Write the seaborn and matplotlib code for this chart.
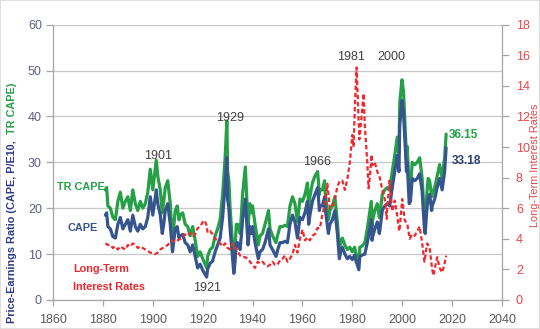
import numpy as np
import pandas as pd
import matplotlib
matplotlib.use("Agg")
import matplotlib.pyplot as plt
import seaborn as sns
from matplotlib.patches import Rectangle

# ---------------- data ----------------
cape_years = [1881.0, 1881.5, 1882, 1883, 1884, 1885, 1886, 1887, 1888, 1889, 1890, 1891, 1892, 1893,
              1894, 1895, 1896, 1897, 1898, 1899, 1900, 1901.4, 1902, 1903, 1903.8, 1904.5, 1905,
              1906, 1907, 1907.9, 1909, 1909.8, 1910.5, 1911, 1912, 1913, 1914, 1915, 1916, 1917,
              1918, 1919, 1920, 1921.6, 1922, 1923, 1924, 1925, 1926, 1927, 1928, 1929, 1929.7,
              1930, 1930.5, 1931, 1932.5, 1933, 1933.5, 1934, 1935, 1935.5, 1936, 1937.1, 1938.2,
              1938.9, 1939.5, 1940, 1941, 1942.3, 1943, 1944, 1945, 1946.4, 1947, 1948, 1949.4,
              1950, 1951, 1952, 1953, 1954, 1955, 1956, 1957, 1958, 1959, 1960, 1961, 1962,
              1962.5, 1963, 1964, 1965, 1966.1, 1966.8, 1967, 1968, 1968.9, 1969, 1970.4, 1971,
              1972, 1973, 1974, 1974.8, 1975.5, 1976, 1977, 1978, 1979, 1980, 1980.9, 1981.5,
              1982.6, 1983, 1984, 1985, 1986, 1987.6, 1987.9, 1988, 1989, 1990, 1990.8, 1991,
              1992, 1993, 1994, 1995, 1996, 1997, 1998, 1998.7, 1999, 1999.9, 2000.5, 2001,
              2001.7, 2002, 2002.8, 2003.3, 2004, 2005, 2006, 2007, 2007.8, 2008, 2008.9, 2009.2,
              2010, 2010.4, 2011, 2011.8, 2012, 2013, 2014, 2015, 2016, 2017, 2017.6]

cape = [18.5, 19.0, 16.0, 15.5, 13.8, 13.5, 16.5, 18.0, 15.5, 16.5, 17.5, 15.0, 18.5, 16.0,
        15.0, 16.5, 15.5, 16.0, 18.0, 22.5, 18.5, 24.0, 21.0, 18.5, 14.5, 17.0, 19.5,
        21.0, 16.5, 10.5, 15.5, 16.0, 13.5, 14.0, 14.3, 12.5, 12.0, 10.5, 12.0, 9.5,
        7.0, 7.8, 6.5, 5.0, 6.8, 8.0, 8.5, 10.5, 12.0, 13.5, 18.0, 25.0, 31.0,
        22.0, 20.0, 15.5, 5.8, 8.5, 12.5, 12.5, 11.0, 14.0, 17.5, 22.0, 12.0,
        16.0, 14.5, 16.0, 12.5, 9.0, 10.5, 11.0, 12.5, 15.5, 12.0, 11.0, 9.5,
        10.8, 12.5, 12.5, 12.8, 12.5, 16.5, 18.5, 17.0, 13.5, 18.0, 17.5, 19.0, 21.5,
        16.5, 18.5, 21.5, 23.0, 24.5, 19.5, 20.5, 20.5, 22.5, 20.5, 14.5, 16.5,
        17.5, 19.5, 14.5, 9.0, 11.0, 11.5, 10.0, 9.0, 9.5, 8.8, 9.8, 8.5,
        6.6, 9.5, 9.8, 10.0, 12.5, 17.5, 13.0, 13.5, 15.5, 17.0, 14.5, 15.0,
        19.5, 20.5, 21.0, 20.5, 24.5, 28.0, 31.5, 28.0, 38.0, 43.5, 41.0, 35.5,
        28.0, 30.0, 21.0, 21.5, 26.5, 26.0, 26.5, 27.5, 24.5, 23.5, 15.5, 14.5,
        20.5, 22.5, 23.0, 19.5, 20.5, 22.0, 24.5, 26.5, 24.0, 28.0, 33.18]

tr_cape = [24.0, 24.5, 20.5, 20.0, 18.0, 17.5, 21.5, 23.5, 20.0, 21.5, 22.5, 19.5, 24.0, 21.0,
           19.5, 21.5, 20.0, 21.0, 23.5, 28.5, 24.0, 30.5, 27.0, 24.0, 19.0, 22.0, 24.5,
           26.0, 21.0, 13.0, 19.5, 20.5, 17.5, 18.5, 19.0, 16.5, 16.0, 14.0, 16.0, 13.0,
           9.5, 10.5, 9.0, 7.0, 9.5, 11.0, 11.5, 14.0, 15.5, 17.5, 23.0, 31.0, 39.0,
           28.0, 26.0, 20.0, 8.0, 11.5, 16.5, 16.5, 14.5, 18.5, 23.0, 29.0, 16.0,
           21.0, 19.0, 20.5, 16.5, 12.0, 14.0, 14.5, 16.5, 19.5, 15.5, 14.0, 12.5,
           14.0, 16.0, 16.0, 16.3, 16.0, 20.5, 22.5, 21.0, 17.0, 22.0, 21.5, 23.0, 25.5,
           20.0, 22.5, 25.5, 27.0, 28.0, 23.0, 24.0, 24.0, 26.0, 24.0, 17.5, 19.5,
           20.5, 22.5, 17.0, 11.0, 13.0, 13.5, 12.0, 11.0, 11.5, 10.5, 11.5, 10.0,
           8.0, 11.5, 11.8, 12.5, 15.5, 21.5, 16.0, 17.0, 19.5, 21.0, 18.0, 18.5,
           23.0, 24.0, 24.5, 24.0, 28.0, 31.5, 35.5, 32.0, 43.0, 48.0, 45.5, 39.5,
           31.5, 33.5, 24.0, 24.5, 30.0, 29.5, 30.0, 31.0, 27.5, 26.5, 18.0, 17.0,
           24.0, 26.5, 26.0, 22.5, 23.0, 24.5, 27.0, 29.5, 26.5, 31.0, 36.15]

rate_years = [1881, 1882, 1883, 1884, 1885, 1886, 1887, 1888, 1889, 1890, 1891, 1892, 1893, 1894,
              1895, 1896, 1897, 1898, 1899, 1900, 1901, 1902, 1903, 1904, 1905, 1906, 1907, 1908,
              1909, 1910, 1911, 1912, 1913, 1914, 1915, 1916, 1917, 1918, 1919, 1920, 1920.8,
              1921.5, 1922, 1923, 1924, 1925, 1926, 1927, 1928, 1929, 1930, 1931, 1932, 1933,
              1934, 1935, 1936, 1937, 1938, 1939, 1940, 1941, 1942, 1943, 1944, 1945, 1946,
              1947, 1948, 1949, 1950, 1951, 1952, 1953, 1954, 1955, 1956, 1957, 1958, 1959,
              1960, 1961, 1962, 1963, 1964, 1965, 1966, 1967, 1968, 1969, 1970, 1971, 1972,
              1973, 1974, 1975, 1976, 1977, 1978, 1979, 1980, 1980.5, 1981, 1981.7, 1982,
              1982.8, 1983, 1984, 1984.5, 1985, 1986, 1986.5, 1987, 1987.7, 1988, 1989, 1990,
              1991, 1992, 1993, 1993.8, 1994, 1994.9, 1995, 1996, 1997, 1998, 1998.8, 1999,
              2000, 2001, 2002, 2003, 2004, 2005, 2006, 2007, 2008, 2008.9, 2009, 2010, 2011,
              2012, 2012.5, 2013, 2014, 2015, 2016, 2017, 2017.6]

rates = [3.7, 3.6, 3.6, 3.4, 3.5, 3.3, 3.5, 3.4, 3.3, 3.6, 3.5, 3.7, 3.6, 3.4,
         3.5, 3.4, 3.3, 3.2, 3.1, 3.05, 3.0, 3.1, 3.3, 3.4, 3.5, 3.6, 3.8, 3.9,
         3.8, 3.9, 4.0, 4.1, 4.3, 4.2, 4.4, 4.2, 4.3, 4.7, 4.8, 5.1, 5.2,
         4.9, 4.4, 4.5, 4.3, 4.0, 3.9, 3.7, 3.5, 3.7, 3.4, 3.3, 3.7, 3.4,
         3.2, 2.9, 2.8, 2.8, 2.7, 2.5, 2.3, 2.1, 2.5, 2.4, 2.5, 2.3, 2.2,
         2.3, 2.5, 2.3, 2.3, 2.6, 2.7, 2.9, 2.5, 2.7, 3.0, 3.6, 3.1, 4.0,
         4.6, 3.9, 4.1, 3.9, 4.2, 4.3, 4.7, 4.7, 5.6, 6.2, 7.6, 6.0, 6.1,
         6.6, 7.4, 7.8, 7.8, 7.2, 7.9, 9.0, 10.8, 10.0, 12.6, 15.2, 14.0,
         10.5, 10.8, 12.5, 13.5, 11.4, 9.0, 7.3, 8.0, 9.5, 8.8, 9.0, 8.4,
         8.0, 7.2, 6.6, 5.3, 6.0, 7.8, 7.5, 5.8, 6.5, 5.5, 4.5, 4.7,
         6.6, 5.2, 5.0, 4.0, 4.3, 4.2, 4.5, 4.8, 3.7, 2.5, 2.6, 3.7, 3.4,
         2.0, 1.6, 2.0, 2.8, 2.1, 1.8, 2.4, 2.9]

left_ticks = [0, 10, 20, 30, 40, 50, 60]
right_ticks = [0, 2, 4, 6, 8, 10, 12, 14, 16, 18]
x_ticks = [1860, 1880, 1900, 1920, 1940, 1960, 1980, 2000, 2020, 2040]

peak_labels = ["1901", "1929", "1966", "1981", "2000", "1921"]
peak_pos = [(1902.0, 31.4), (1930.8, 39.6), (1966.0, 30.1), (1979.6, 52.9), (1995.8, 52.9), (1921.6, 2.6)]

# ---------------- style ----------------
sns.set_style("white")
plt.rcParams['font.family'] = ['Liberation Sans', 'DejaVu Sans']

NAVY = "#36558F"
GREEN = "#25A047"
RED = "#F0282D"
GRID = "#C8C8C8"
SPINE = "#A6A6A6"

fig = plt.figure(figsize=(5.4, 3.29), dpi=100)
ax = fig.add_axes([53/540, 29/329, 449/540, 275.3/329])

df = pd.DataFrame({"year": cape_years, "CAPE": cape, "TR CAPE": tr_cape})
dr = pd.DataFrame({"year": rate_years, "rate": rates})

sns.lineplot(data=df, x="year", y="TR CAPE", ax=ax, color=GREEN, linewidth=2.3, zorder=3)
sns.lineplot(data=df, x="year", y="CAPE", ax=ax, color=NAVY, linewidth=2.3, zorder=4)

ax.set_xlim(1860, 2040)
ax.set_ylim(0, 60)
ax.set_xticks(x_ticks)
ax.set_yticks(left_ticks)
ax.set_xlabel("")
ax.set_ylabel("")
ax.yaxis.grid(True, color=GRID, linewidth=0.9)
ax.set_axisbelow(True)
for s in ["top", "right"]:
    ax.spines[s].set_visible(False)
for s in ["left", "bottom"]:
    ax.spines[s].set_color(SPINE)
    ax.spines[s].set_linewidth(0.9)
ax.tick_params(axis="x", colors=SPINE, labelcolor="#595959", labelsize=9, length=4, width=0.9, direction="out", pad=6)
ax.tick_params(axis="y", colors=SPINE, labelcolor="#5A5F8C", labelsize=9, length=5, width=0.9, direction="out", pad=3)
ax.tick_params(axis="x", bottom=True)
ax.tick_params(axis="y", left=True)

ax2 = ax.twinx()
sns.lineplot(data=dr, x="year", y="rate", ax=ax2, color=RED, linewidth=1.6, zorder=5)
ax2.lines[0].set_dashes([2.0, 1.2])
ax2.set_ylim(0, 18)
ax2.set_yticks(right_ticks)
ax2.set_ylabel("")
for s in ["top", "left", "bottom"]:
    ax2.spines[s].set_visible(False)
ax2.spines["right"].set_color(SPINE)
ax2.spines["right"].set_linewidth(0.9)
ax2.tick_params(axis="y", colors=SPINE, labelcolor="#E8474A", labelsize=9, length=5, width=0.9, direction="out", pad=5)

# ---------------- annotations ----------------
for lab, (xx, yy) in zip(peak_labels, peak_pos):
    ax.text(xx, yy, lab, ha="center", va="center", fontsize=9, color="#404040", zorder=6)

ax.text(1861.6, 24.6, "TR CAPE", color=GREEN, fontsize=7.8, fontweight="bold", ha="left", va="center")
ax.text(1866.0, 15.7, "CAPE", color=NAVY, fontsize=7.8, fontweight="bold", ha="left", va="center")
ax.text(1868.0, 6.75, "Long-Term", color=RED, fontsize=7.8, fontweight="bold", ha="left", va="center")
ax.text(1868.0, 2.8, "Interest Rates", color=RED, fontsize=7.8, fontweight="bold", ha="left", va="center")
ax.text(2018.8, 35.9, "36.15", color=GREEN, fontsize=8.5, fontweight="bold", ha="left", va="center", zorder=7)
ax.text(2020.0, 30.3, "33.18", color="#2F3F6F", fontsize=8.5, fontweight="bold", ha="left", va="center", zorder=7)

# left y-label in two colours
t1 = fig.text(12/540, (329-323)/329, "Price-Earnings Ratio (CAPE, P/E10,  ", rotation=90,
              ha="center", va="bottom", color="#2E3A87", fontsize=7.8, fontweight="bold")
fig.canvas.draw()
bb = t1.get_window_extent().transformed(fig.transFigure.inverted())
fig.text(12/540, bb.y1, "TR CAPE)", rotation=90, ha="center", va="bottom",
         color=GREEN, fontsize=7.8, fontweight="bold")

fig.text(534.5/540, 1 - 165/329, "Long-Term Interest Rates", rotation=90, ha="center", va="center",
         color="#E8474A", fontsize=7.8)

fig.patches.append(Rectangle((0, 0), 1, 1, transform=fig.transFigure, fill=False,
                             edgecolor="#D9D9D9", linewidth=1.2))

fig.savefig("out.png", dpi=100)
